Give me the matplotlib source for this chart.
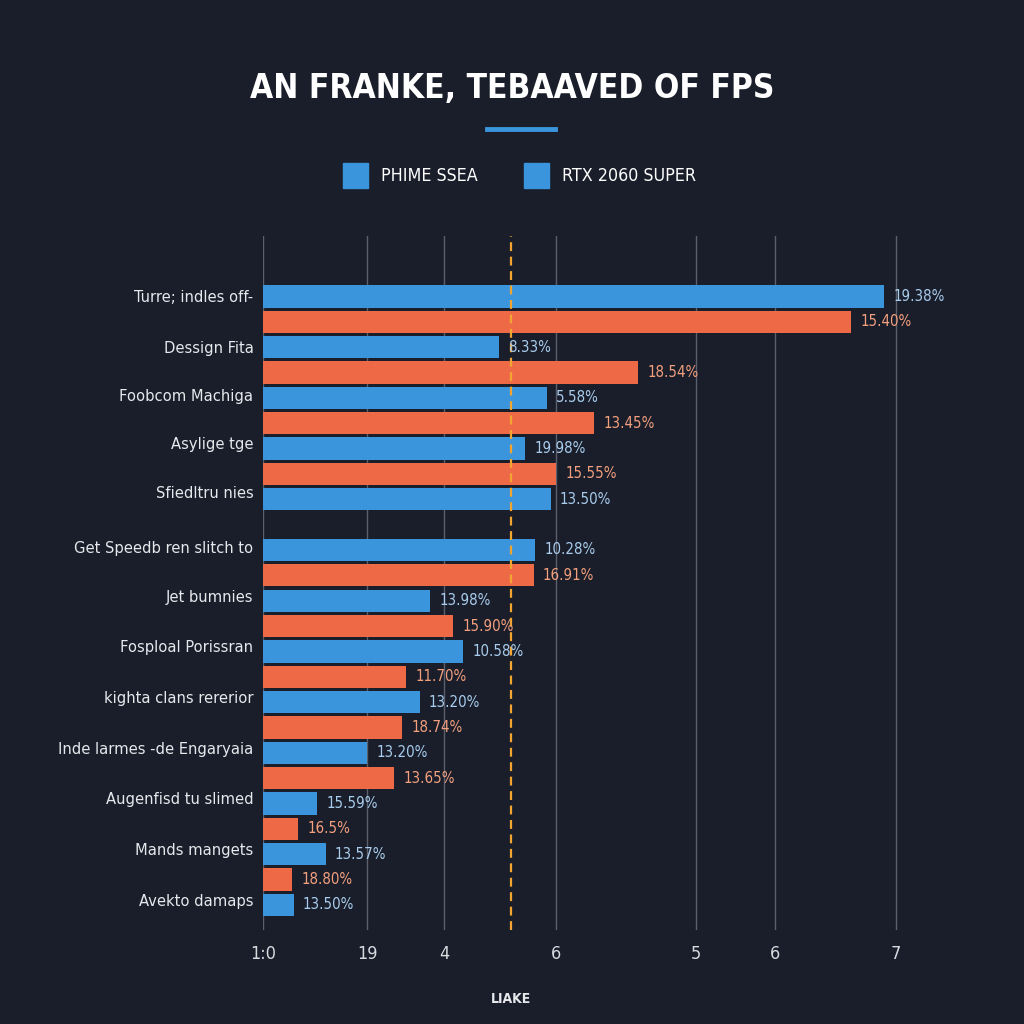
import matplotlib
matplotlib.use("Agg")
import matplotlib.pyplot as plt
from matplotlib.patches import Rectangle
from matplotlib.lines import Line2D

# data
categories = ["Turre; indles off-", "Dessign Fita", "Foobcom Machiga", "Asylige tge",
              "Sfiedltru nies", "Get Speedb ren slitch to", "Jet bumnies",
              "Fosploal Porissran", "kighta clans rererior", "Inde larmes -de Engaryaia",
              "Augenfisd tu slimed", "Mands mangets", "Avekto damaps"]
cat_pos = [0, 2, 3.9, 5.8, 7.7, 9.9, 11.8, 13.8, 15.8, 17.8, 19.8, 21.8, 23.8]

bar_slot = [0, 1, 2, 3, 4, 5, 6, 7, 8, 10, 11, 12, 13, 14, 15, 16, 17, 18, 19, 20, 21, 22, 23, 24]
bar_vals = [6.87, 6.50, 2.61, 4.15, 3.14, 3.66, 2.90, 3.24, 3.18, 3.01, 2.99, 1.85, 2.10,
            2.21, 1.58, 1.73, 1.54, 1.15, 1.45, 0.60, 0.39, 0.69, 0.32, 0.34]
bar_series = ["b", "o", "b", "o", "b", "o", "b", "o", "b", "b", "o", "b", "o",
              "b", "o", "b", "o", "b", "o", "b", "o", "b", "o", "b"]
bar_labels = ["19.38%", "15.40%", "8.33%", "18.54%", "5.58%", "13.45%", "19.98%", "15.55%",
              "13.50%", "10.28%", "16.91%", "13.98%", "15.90%", "10.58%", "11.70%", "13.20%",
              "18.74%", "13.20%", "13.65%", "15.59%", "16.5%", "13.57%", "18.80%", "13.50%"]

x_ticks = [0, 1.15, 2.0, 3.24, 4.79, 5.66, 7.0]
x_ticklabels = ["1:0", "19", "4", "6", "5", "6", "7"]
ref_line = 2.74

legend_names = ["PHIME SSEA", "RTX 2060 SUPER"]

BG = "#1a1e2a"
BLUE = "#3b95dc"
ORANGE = "#ee6a47"
colors = {"b": BLUE, "o": ORANGE}
label_colors = {"b": "#a9cdee", "o": "#f3a07e"}

plt.rcParams["font.family"] = ["DejaVu Sans"]
plt.rcParams["font.stretch"] = "condensed"

fig = plt.figure(figsize=(10.24, 10.24), dpi=100, facecolor=BG)
ax = fig.add_axes([0.257, 0.092, 0.620, 0.678], facecolor=BG)

ax.barh(bar_slot, bar_vals, height=0.88, color=[colors[s] for s in bar_series], zorder=3)
for y, v, s, t in zip(bar_slot, bar_vals, bar_series, bar_labels):
    ax.text(v + 0.1, y, t, color=label_colors[s], fontsize=10.8, va="center",
            ha="left", zorder=5)

ax.axvline(ref_line, color="#f2a531", lw=1.6, ls=(0, (4, 2.5)), zorder=4)

ax.set_xlim(0, 7.02)
ax.set_ylim(24.98, -2.4)
ax.set_xticks(x_ticks)
ax.set_xticklabels(x_ticklabels, color="#d8dbe0", fontsize=13)
ax.set_yticks(cat_pos)
ax.set_yticklabels(categories, color="#e6e8ec", fontsize=11.8)
ax.tick_params(length=0, pad=11)
ax.tick_params(axis="y", pad=7)
ax.grid(axis="x", color="#5b606c", lw=1, zorder=0)
for sp in ax.spines.values():
    sp.set_visible(False)
ax.set_xlabel("LIAKE", color="#e6e8ec", fontsize=10, fontweight="bold")
ax.xaxis.set_label_coords(ref_line / 7.02, -0.09)

# title and accent line
fig.text(0.5, 0.914, "AN FRANKE, TEBAAVED OF FPS", ha="center", va="center",
         color="white", fontsize=24, fontweight="bold")
fig.add_artist(Line2D([487 / 1024, 555 / 1024], [1 - 129 / 1024] * 2, color=BLUE, lw=3.5))

# legend (both swatches blue as in the original)
for x0, name in zip([343, 524], legend_names):
    fig.add_artist(Rectangle((x0 / 1024, 1 - 188 / 1024), 25 / 1024, 25 / 1024,
                             color=BLUE, transform=fig.transFigure))
    fig.text((x0 + 38) / 1024, 1 - 176 / 1024, name, color="white", fontsize=12.8,
             va="center", ha="left")

fig.savefig("out.png", dpi=100, facecolor=BG)
